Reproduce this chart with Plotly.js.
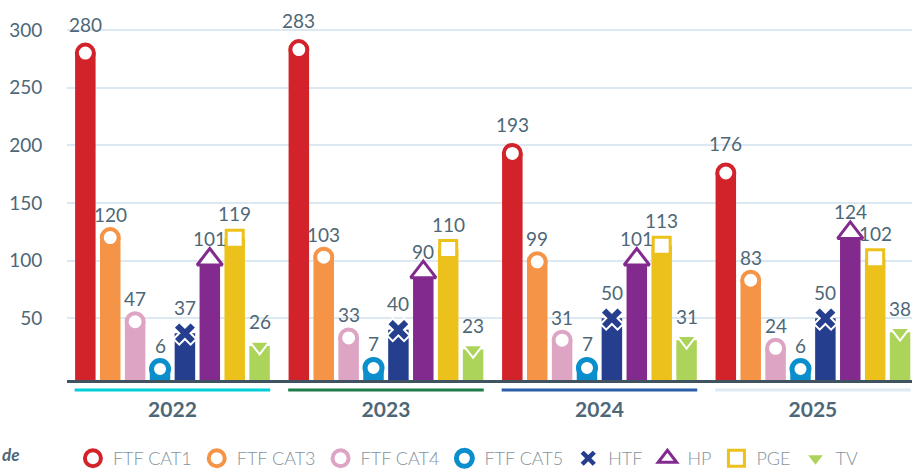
<!DOCTYPE html>
<html>
<head>
<meta charset="utf-8">
<script src="https://cdn.plot.ly/plotly-3.0.1.min.js"></script>
<style>
  html, body { margin: 0; padding: 0; background: #fff; overflow: hidden; }
  #chart { width: 912px; height: 473px; }
</style>
</head>
<body>
<div id="chart"></div>
<script>
// categories and values
const years = ['2022', '2023', '2024', '2025'];
const seriesNames = ['FTF CAT1', 'FTF CAT3', 'FTF CAT4', 'FTF CAT5', 'HTF', 'HP', 'PGE', 'TV'];
const ftfCat1 = [280, 283, 193, 176];
const ftfCat3 = [120, 103, 99, 83];
const ftfCat4 = [47, 33, 31, 24];
const ftfCat5 = [6, 7, 7, 6];
const htf = [37, 40, 50, 50];
const hp = [101, 90, 101, 124];
const pge = [119, 110, 113, 102];
const tv = [26, 23, 31, 38];
const yTicks = [50, 100, 150, 200, 250, 300];

const allSeries = [ftfCat1, ftfCat3, ftfCat4, ftfCat5, htf, hp, pge, tv];

// styles
const barColors = ['#d2232b', '#f59446', '#dea4c3', '#0b8fcc', '#253f8e', '#832a8e', '#edc11b', '#add45a'];
const markerStyles = [
    {symbol: 'circle', size: 17, color: '#fff', line: {color: '#d2232b', width: 4}},
    {symbol: 'circle', size: 17, color: '#fff', line: {color: '#f59446', width: 4}},
    {symbol: 'circle', size: 17, color: '#fff', line: {color: '#dea4c3', width: 4}},
    {symbol: 'circle', size: 17, color: '#fff', line: {color: '#0b8fcc', width: 5}},
    {symbol: 'x', size: 20, color: '#253f8e', line: {color: '#fff', width: 2}},
    {symbol: 'triangle-up', size: 22, color: '#fff', line: {color: '#832a8e', width: 3}},
    {symbol: 'square', size: 17, color: '#fff', line: {color: '#edc11b', width: 3}},
    {symbol: 'triangle-down', size: 17, color: '#add45a', line: {color: '#fff', width: 2}}
];
const labelShift = [29, 23, 23, 24, 26, 21, 25, 24];
const underlineColors = ['#00cfd8', '#1f7d4b', '#2b5ea8', '#dde9f3'];

const slot = 0.1166;   // distance between bars inside a year group
const barW = 0.096;
const textColor = '#4e6777';

const xPos = (s) => years.map((y, g) => g + (s - 3.5) * slot);

const data = [];
const annotations = [];

allSeries.forEach((vals, s) => {
    data.push({
        type: 'bar',
        x: xPos(s),
        y: vals.map(v => v + 3.5),
        base: -3.5,
        width: barW,
        marker: {color: barColors[s]},
        showlegend: false,
        hoverinfo: 'skip'
    });
});
allSeries.forEach((vals, s) => {
    data.push({
        type: 'scatter',
        mode: 'markers',
        name: seriesNames[s],
        x: xPos(s),
        y: vals,
        marker: markerStyles[s],
        cliponaxis: false
    });
    xPos(s).forEach((x, g) => {
        annotations.push({
            x: x, y: vals[g], xref: 'x', yref: 'y',
            text: String(vals[g]), showarrow: false,
            yanchor: 'middle', yshift: labelShift[s],
            font: {family: 'Lato', size: 19, color: textColor}
        });
    });
});

annotations.push({
    xref: 'paper', yref: 'paper', x: -0.0793, y: -0.197,
    xanchor: 'left', yanchor: 'middle', showarrow: false,
    text: '<b><i>de</i></b>',
    font: {family: 'Lato', size: 17, color: textColor}
});

const shapes = years.map((y, g) => ({
    type: 'line', xref: 'x', yref: 'paper',
    x0: g - 0.458, x1: g + 0.458, y0: -0.0263, y1: -0.0263,
    line: {color: underlineColors[g], width: 3}
}));

const layout = {
    width: 912,
    height: 473,
    margin: {l: 67, r: 0, t: 0, b: 93, autoexpand: false},
    paper_bgcolor: '#fff',
    plot_bgcolor: '#fff',
    font: {family: 'Lato', color: textColor},
    barmode: 'overlay',
    xaxis: {
        range: [-0.494, 3.464],
        tickvals: years.map((y, g) => g),
        ticktext: years,
        showgrid: false,
        zeroline: false,
        showline: true,
        linecolor: '#3f5360',
        linewidth: 3,
        ticks: 'outside',
        ticklen: 9,
        tickcolor: 'rgba(0,0,0,0)',
        tickfont: {family: 'Lato', size: 21, color: textColor, weight: 'bold'},
        fixedrange: true
    },
    yaxis: {
        range: [-3.5, 326],
        tickvals: yTicks,
        showgrid: true,
        gridcolor: '#dde9f2',
        gridwidth: 2,
        zeroline: false,
        showline: false,
        ticks: 'outside',
        ticklen: 20,
        tickcolor: 'rgba(0,0,0,0)',
        tickfont: {family: 'Lato', size: 19, color: textColor},
        fixedrange: true
    },
    legend: {
        orientation: 'h',
        x: 0.007, xanchor: 'left',
        y: -0.158, yanchor: 'top',
        font: {family: 'Lato', size: 18, color: '#7f929e', weight: 300},
        itemclick: false, itemdoubleclick: false
    },
    shapes: shapes,
    annotations: annotations
};

Plotly.newPlot('chart', data, layout, {displayModeBar: false, staticPlot: true});
</script>
</body>
</html>
